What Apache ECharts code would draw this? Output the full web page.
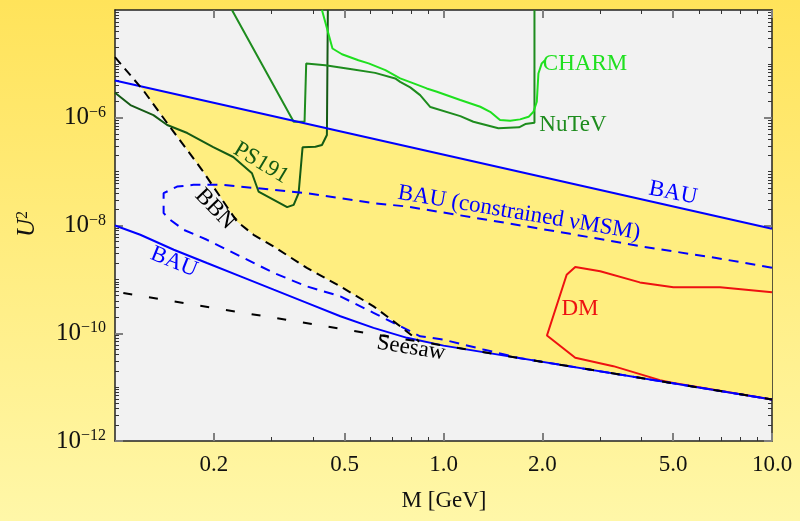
<!DOCTYPE html>
<html><head><meta charset="utf-8">
<script src="https://cdn.jsdelivr.net/npm/echarts@6/dist/echarts.min.js"></script>
<style>html,body{margin:0;padding:0;background:#fff}#c{width:800px;height:521px}</style>
</head><body><div id="c"></div>
<script>
// ---- tick values / labels ----
const xTickValues = [0.2, 0.5, 1, 2, 5, 10];
const xTickLabels = ['0.2', '0.5', '1.0', '2.0', '5.0', '10.0'];
const xMinorTicks = [0.3, 0.4, 0.6, 0.7, 0.8, 0.9, 3, 4, 6, 7, 8, 9];
const yTickExponents = [-12, -10, -8, -6];

// ---- curves (M in GeV, U^2) ----
const bauUpM = [0.1, 10];
const bauUpU2 = [4.9e-6, 8.7e-9];

const bauLoM = [0.1, 0.1194, 0.151, 0.1905, 0.241, 0.3041, 0.3837, 0.4853, 0.6124, 0.7745, 1, 10];
const bauLoU2 = [1.0e-8, 6.73e-9, 3.55e-9, 2.01e-9, 1.14e-9, 6.44e-10, 3.66e-10, 2.07e-10, 1.26e-10, 8.22e-11, 5.89e-11, 5.89e-12];

const seesawM = [0.106, 10];
const seesawU2 = [5.56e-10, 5.89e-12];

const bbnM = [0.1, 0.1219, 0.1442, 0.166, 0.1841, 0.235, 0.2642, 0.3041, 0.3837, 0.4853, 0.6124, 0.738, 0.8299, 0.8433];
const bbnU2 = [1.33e-5, 3.24e-6, 7.94e-7, 2.51e-7, 1.07e-7, 1.19e-8, 6.73e-9, 4.08e-9, 1.63e-9, 7.41e-10, 3.16e-10, 1.35e-10, 7.64e-11, 6.98e-11];

const numsmM = [10, 6.70, 4.05, 2.43, 1.49, 0.7745, 0.6124, 0.4853, 0.3837, 0.3041, 0.2143, 0.1734, 0.1545, 0.1406, 0.1406, 0.1472, 0.1618, 0.1905, 0.241, 0.3041, 0.3837, 0.4853, 0.6124, 0.7745, 0.849, 1.0, 1.321, 1.71, 10];
const numsmU2 = [1.65e-9, 2.52e-9, 4.04e-9, 7.01e-9, 1.16e-8, 2.25e-8, 2.60e-8, 3.21e-8, 3.98e-8, 4.58e-8, 5.68e-8, 5.68e-8, 5.27e-8, 3.98e-8, 1.70e-8, 1.28e-8, 8.32e-9, 5.43e-9, 2.67e-9, 1.32e-9, 7.41e-10, 4.84e-10, 2.39e-10, 1.17e-10, 8.79e-11, 7.59e-11, 5.01e-11, 3.44e-11, 5.89e-12];

const ps191M = [0.1, 0.1114, 0.1309, 0.1442, 0.166, 0.1991, 0.2291, 0.2612, 0.2735, 0.3342, 0.3499, 0.3622, 0.3724, 0.4074, 0.4266, 0.4416, 0.4446];
const ps191U2 = [2.90e-6, 1.72e-6, 1.12e-6, 7.33e-7, 5.21e-7, 2.86e-7, 1.87e-7, 9.33e-8, 4.27e-8, 2.19e-8, 2.42e-8, 3.98e-8, 2.83e-7, 2.90e-7, 3.12e-7, 4.79e-7, 1.0e-4];

const nutevM = [0.227, 0.3499, 0.3776, 0.382, 0.4365, 0.526, 0.6194, 0.7129, 0.738, 0.792, 0.849, 0.912, 1.125, 1.233, 1.469, 1.698, 1.774, 1.892, 1.892];
const nutevU2 = [1.0e-4, 8.43e-7, 8.43e-7, 1.02e-5, 9.46e-6, 7.98e-6, 6.81e-6, 5.37e-6, 4.64e-6, 3.66e-6, 2.63e-6, 1.58e-6, 1.07e-6, 8.43e-7, 6.37e-7, 6.64e-7, 7.64e-7, 8.07e-7, 1.0e-4];

const charmM = [0.4266, 0.4592, 0.4909, 0.5508, 0.5916, 0.6653, 0.738, 0.811, 0.8892, 0.955, 1.125, 1.294, 1.387, 1.486, 1.596, 1.71, 1.816, 1.879, 1.923, 1.945, 1.991, 2.037];
const charmU2 = [1.0e-4, 1.93e-5, 1.51e-5, 1.17e-5, 1.02e-5, 7.64e-6, 5.37e-6, 4.34e-6, 3.50e-6, 3.03e-6, 2.13e-6, 1.60e-6, 1.29e-6, 9.06e-7, 8.79e-7, 9.33e-7, 1.04e-6, 1.29e-6, 1.98e-6, 6.64e-6, 1.02e-5, 1.17e-5];

const dmM = [10, 6.95, 5.01, 3.96, 3.0, 2.518, 2.371, 2.065, 2.518, 3.289, 4.56, 5.01, 10];
const dmU2 = [5.74e-10, 7.11e-10, 7.11e-10, 8.79e-10, 1.41e-9, 1.70e-9, 1.22e-9, 9.06e-11, 3.50e-11, 2.45e-11, 1.35e-11, 1.19e-11, 5.89e-12];

// boundary of the yellow (allowed) region
const fillM = [0.1186, 10, 10, 0.8433, 0.8299, 0.738, 0.6124, 0.4853, 0.3837, 0.3041, 0.2642, 0.235, 0.1841, 0.166, 0.1442, 0.1219];
const fillU2 = [3.96e-6, 8.7e-9, 5.89e-12, 6.98e-11, 7.64e-11, 1.35e-10, 3.16e-10, 7.41e-10, 1.63e-9, 4.08e-9, 6.73e-9, 1.19e-8, 1.07e-7, 2.51e-7, 7.94e-7, 3.24e-6];

// ---- build ----
const L = Math.log10;
const pts = (ms, us) => ms.map((m, i) => [L(m), L(us[i])]);
const FONT = "'Liberation Serif','Times New Roman',serif";

const xMajorL = xTickValues.map(L);
const xMinorL = xMinorTicks.map(L);
const yMajorL = yTickExponents.slice();
const yMinorL = [];
for (let n = -12; n <= -5; n++) {
  for (let k = 1; k <= 9; k++) {
    if (k === 1 && n % 2 === 0) continue;
    yMinorL.push(n + L(k));
  }
}

function xAx(pos, ticks, len, col, w, showLine, labels) {
  return {
    type: 'value', min: -1, max: 1, position: pos,
    axisLine: { show: showLine, onZero: false, lineStyle: { color: '#222', width: 1.5 } },
    axisTick: { show: true, inside: true, length: len, customValues: ticks, lineStyle: { color: col, width: w } },
    axisLabel: labels ? {
      show: true, customValues: xMajorL, margin: 12, fontSize: 23, fontFamily: FONT, color: '#111', lineHeight: 23,
      formatter: v => { const i = xMajorL.findIndex(t => Math.abs(t - v) < 1e-6); return i >= 0 ? xTickLabels[i] : ''; }
    } : { show: false },
    splitLine: { show: false }
  };
}
function yAx(pos, ticks, len, col, w, showLine, labels) {
  return {
    type: 'value', min: -12, max: -4, position: pos,
    axisLine: { show: showLine, onZero: false, lineStyle: { color: '#222', width: 1.5 } },
    axisTick: { show: true, inside: true, length: len, customValues: ticks, lineStyle: { color: col, width: w } },
    axisLabel: labels ? {
      show: true, customValues: yMajorL, margin: 9,
      formatter: v => '{b|10}{s|\u2212' + Math.abs(Math.round(v)) + '}',
      rich: {
        b: { fontSize: 25, fontFamily: FONT, color: '#111', lineHeight: 26, verticalAlign: 'middle' },
        s: { fontSize: 16, fontFamily: FONT, color: '#111', lineHeight: 16, verticalAlign: 'top' }
      }
    } : { show: false },
    splitLine: { show: false }
  };
}

const line = (name, data, color, width, dash, z) => ({
  type: 'line', name, data, xAxisIndex: 0, yAxisIndex: 0,
  showSymbol: false, symbol: 'none', smooth: false, z: z || 3, silent: true,
  lineStyle: { color, width, type: dash || 'solid', cap: 'butt' }
});

const fillPts = pts(fillM, fillU2);

const labels = [
  { t: 'CHARM', x: 585, y: 64, c: '#1fe01f', r: 0 },
  { t: 'NuTeV', x: 573, y: 125, c: '#1e8c1e', r: 0 },
  { t: 'BAU', x: 673, y: 193, c: '#0000ff', r: -11 },
  { t: 'BAU (constrained \u03BDMSM)', x: 519, y: 213, c: '#0000ff', r: -9.5 },
  { t: 'PS191', x: 261, y: 163, c: '#145a14', r: -31 },
  { t: 'BBN', x: 215, y: 209, c: '#000000', r: -46 },
  { t: 'BAU', x: 174, y: 262, c: '#0000ff', r: -22 },
  { t: 'Seesaw', x: 411, y: 348, c: '#000000', r: -9 },
  { t: 'DM', x: 580, y: 309, c: '#ee1111', r: 0 }
];

const graphics = labels.map(l => ({
  type: 'text', x: l.x, y: l.y, rotation: l.r * Math.PI / 180, z: 100,
  style: { text: l.t, fill: l.c, font: '23px ' + FONT, align: 'center', verticalAlign: 'middle', textAlign: 'center', textVerticalAlign: 'middle' }
}));
graphics.push({
  type: 'text', x: 444, y: 501, z: 100,
  style: { text: 'M [GeV]', fill: '#111', font: '23px ' + FONT, align: 'center', verticalAlign: 'middle', textAlign: 'center', textVerticalAlign: 'middle' }
});
graphics.push({
  type: 'text', x: 27, y: 224, rotation: Math.PI / 2, z: 100,
  style: {
    text: '{u|U}{s|2}', align: 'center', verticalAlign: 'middle', textAlign: 'center', textVerticalAlign: 'middle',
    rich: {
      u: { font: 'italic 25px ' + FONT, fontStyle: 'italic', fontSize: 25, fontFamily: FONT, fill: '#111', color: '#111', lineHeight: 25, verticalAlign: 'middle' },
      s: { font: '16px ' + FONT, fontSize: 16, fontFamily: FONT, fill: '#111', color: '#111', lineHeight: 16, verticalAlign: 'top' }
    }
  }
});

const chart = echarts.init(document.getElementById('c'), null, { renderer: 'canvas', width: 800, height: 521 });
chart.setOption({
  animation: false,
  backgroundColor: new echarts.graphic.LinearGradient(0, 0, 0, 1, [
    { offset: 0, color: '#FFE35A' }, { offset: 1, color: '#FFF7A8' }
  ]),
  grid: { left: 115, right: 28, top: 10, bottom: 80, show: true, backgroundColor: '#f2f2f2', borderWidth: 0, containLabel: false, outerBoundsMode: 'none' },
  xAxis: [
    xAx('bottom', xMajorL, 8, '#808080', 2, true, true),
    xAx('bottom', xMinorL, 4, '#333', 1, false, false),
    xAx('top', xMajorL, 8, '#808080', 2, true, false),
    xAx('top', xMinorL, 4, '#333', 1, false, false)
  ],
  yAxis: [
    yAx('left', yMajorL, 8, '#808080', 2, true, true),
    yAx('left', yMinorL, 4, '#333', 1, false, false),
    yAx('right', yMajorL, 8, '#808080', 2, true, false),
    yAx('right', yMinorL, 4, '#333', 1, false, false)
  ],
  series: [
    {
      type: 'custom', name: 'allowed', xAxisIndex: 0, yAxisIndex: 0, silent: true, z: 1, clip: true,
      data: [[fillPts[0][0], fillPts[0][1]]],
      renderItem: (params, api) => ({
        type: 'polygon',
        shape: { points: fillPts.map(p => api.coord(p)) },
        style: { fill: '#FFEE80' }
      })
    },
    line('DM', pts(dmM, dmU2), '#ee1111', 2, 'solid', 2),
    line('PS191', pts(ps191M, ps191U2), '#145a14', 2),
    line('NuTeV', pts(nutevM, nutevU2), '#1e8c1e', 2),
    line('CHARM', pts(charmM, charmU2), '#1fe01f', 2),
    line('BAU lower', pts(bauLoM, bauLoU2), '#0000ff', 2),
    line('BAU constrained', pts(numsmM, numsmU2), '#0000ff', 2, [10, 7]),
    line('BAU upper', pts(bauUpM, bauUpU2), '#0000ff', 2),
    line('BBN', pts(bbnM, bbnU2), '#000000', 2, [9, 6], 4),
    line('Seesaw', pts(seesawM, seesawU2), '#000000', 2, [9, 17], 4)
  ],
  graphic: graphics
});
</script>
</body></html>
